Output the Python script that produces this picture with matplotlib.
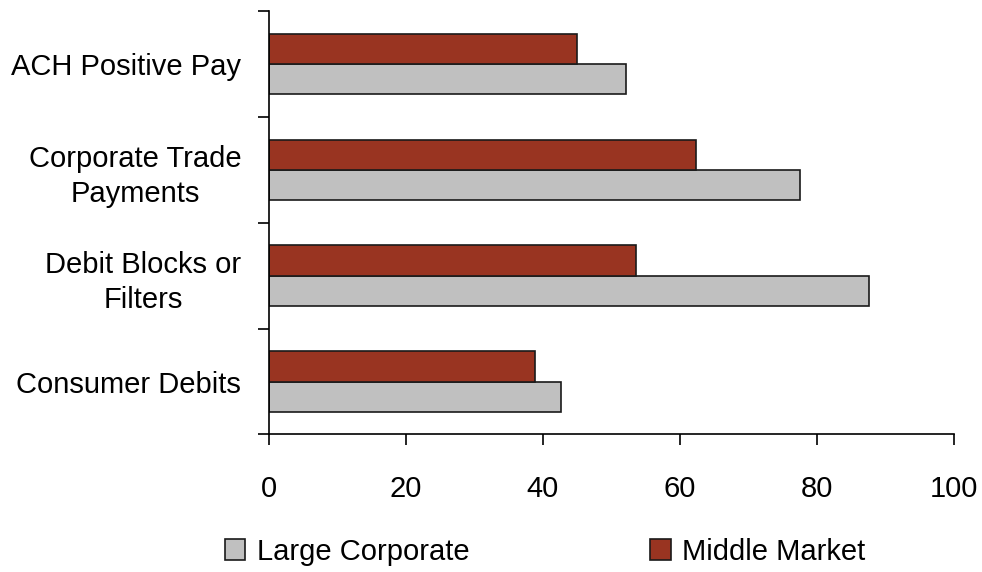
import numpy as np
import matplotlib.pyplot as plt

categories = ['ACH Positive Pay', 'Corporate Trade\nPayments', 'Debit Blocks or\nFilters', 'Consumer Debits']
large_corporate = [52.1, 77.5, 87.6, 42.6]
middle_market = [45.0, 62.4, 53.6, 38.8]
xticks = [0, 20, 40, 60, 80, 100]

plt.rcParams['font.family'] = ['Liberation Sans', 'DejaVu Sans']

fig = plt.figure(figsize=(9.82, 5.72), dpi=100)
ax = fig.add_axes([0.2739, 0.2405, 0.6976, 0.7403])

n = len(categories)
y = np.arange(n)[::-1].astype(float)  # top category first
h = 0.285

ax.barh(y - h / 2, large_corporate, height=h, color='#c0c0c0',
        edgecolor='#1a1a1a', linewidth=1.2, label='Large Corporate')
ax.barh(y + h / 2, middle_market, height=h, color='#993421',
        edgecolor='#1a1a1a', linewidth=1.2, label='Middle Market')

ax.set_xlim(0, 100)
ax.set_ylim(-0.5, n - 0.5)

# boundaries get the tick marks, centres get the labels
ax.set_yticks(np.arange(n + 1) - 0.5)
ax.set_yticklabels([])
ax.set_yticks(y, minor=True)
ax.set_yticklabels(categories, minor=True, fontsize=21, multialignment='center',
                   linespacing=1.35)
ax.tick_params(axis='y', which='major', length=8, width=1.2, direction='out')
ax.tick_params(axis='y', which='minor', length=0, pad=20)

ax.set_xticks(xticks)
ax.set_xticklabels([str(t) for t in xticks], fontsize=21)
ax.tick_params(axis='x', length=8, width=1.2, direction='out', pad=21)

for s in ['top', 'right']:
    ax.spines[s].set_visible(False)
for s in ['left', 'bottom']:
    ax.spines[s].set_linewidth(1.2)

fig.legend(loc='lower left', bbox_to_anchor=(0.208, -0.025), ncol=2, frameon=False,
           fontsize=21, handlelength=0.7, handleheight=0.75, handletextpad=0.4,
           columnspacing=6.2, borderpad=0.2)

fig.savefig('out.png', dpi=100)
